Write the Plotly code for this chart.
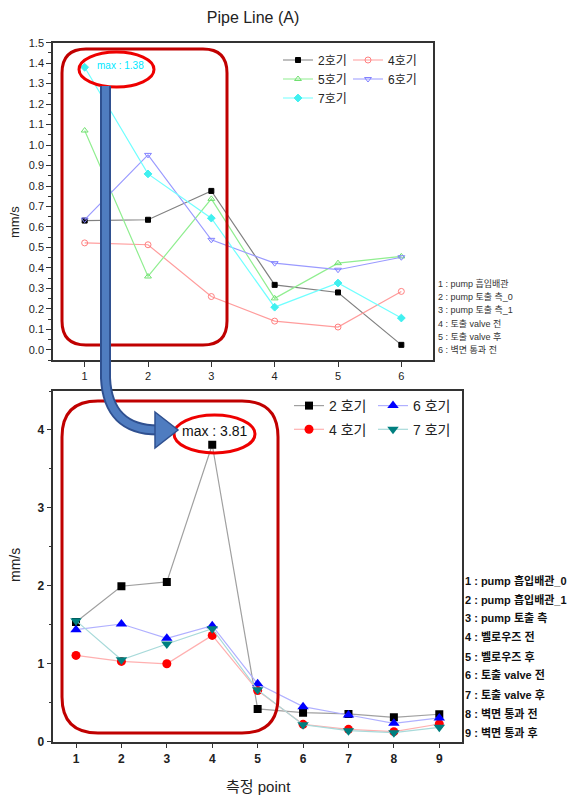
import plotly.graph_objects as go

W, H = 575, 796

# ---------------- data ----------------
points_top = [1, 2, 3, 4, 5, 6]
top_2 = [0.631, 0.635, 0.776, 0.317, 0.280, 0.024]
top_4 = [0.522, 0.513, 0.260, 0.140, 0.111, 0.285]
top_5 = [1.071, 0.358, 0.737, 0.251, 0.423, 0.456]
top_6 = [0.636, 0.952, 0.537, 0.423, 0.391, 0.452]
top_7 = [1.380, 0.859, 0.643, 0.208, 0.326, 0.155]

points_bottom = [1, 2, 3, 4, 5, 6, 7, 8, 9]
bot_2 = [1.536, 1.995, 2.050, 3.810, 0.420, 0.373, 0.356, 0.313, 0.352]
bot_4 = [1.107, 1.030, 1.000, 1.364, 0.656, 0.223, 0.159, 0.129, 0.227]
bot_6 = [1.437, 1.510, 1.326, 1.489, 0.742, 0.450, 0.343, 0.236, 0.305]
bot_7 = [1.553, 1.051, 1.253, 1.450, 0.665, 0.219, 0.142, 0.116, 0.184]

top_names = ["2호기", "4호기", "5호기", "6호기", "7호기"]
bot_names = ["2 호기", "4 호기", "6 호기", "7 호기"]

top_notes = ["1 : pump 흡입배관", "2 : pump 토출 측_0", "3 : pump 토출 측_1",
             "4 : 토출 valve 전", "5 : 토출 valve 후", "6 : 벽면 통과 전"]
bottom_notes = ["1 : pump 흡입배관_0", "2 : pump 흡입배관_1", "3 : pump 토출 측",
                "4 : 벨로우즈 전", "5 : 벨로우즈 후", "6 : 토출 valve 전",
                "7 : 토출 valve 후", "8 : 벽면 통과 전", "9 : 벽면 통과 후"]

top_max_label = "max : 1.38"
bot_max_label = "max : 3.81"

FONT = "Liberation Sans, Arial, Noto Sans CJK KR, sans-serif"


def px(x, y):
    return x / W, 1 - y / H


fig = go.Figure()

# ---------------- top chart traces ----------------
top_styles = [
    (top_2, "#808080", "square", "#000000", 5, "legend"),
    (top_4, "#ff9c9c", "circle-open", "#ff8080", 6, "legend2"),
    (top_5, "#90ee90", "triangle-up-open", "#70e070", 6, "legend"),
    (top_6, "#9a9aff", "triangle-down-open", "#8080ff", 6, "legend2"),
    (top_7, "#70ffff", "diamond", "#40f0f0", 6, "legend"),
]
for name, (vals, lc, sym, mc, ms, lg) in zip(top_names, top_styles):
    fig.add_trace(go.Scatter(
        x=points_top, y=vals, name=name, mode="lines+markers",
        line=dict(color=lc, width=1.2),
        marker=dict(symbol=sym, color=mc, size=ms, line=dict(color=mc, width=1)),
        xaxis="x", yaxis="y", legend=lg))

# ---------------- bottom chart traces ----------------
bot_styles = [
    (bot_2, "#a0a0a0", "square", "#000000", 8, "legend3"),
    (bot_4, "#ffb0b0", "circle", "#ff0000", 9, "legend3"),
    (bot_6, "#b0b0ff", "triangle-up", "#0000ff", 10, "legend4"),
    (bot_7, "#a8dada", "triangle-down", "#007f7f", 10, "legend4"),
]
for name, (vals, lc, sym, mc, ms, lg) in zip(bot_names, bot_styles):
    fig.add_trace(go.Scatter(
        x=points_bottom, y=vals, name=name, mode="lines+markers",
        line=dict(color=lc, width=1.2),
        marker=dict(symbol=sym, color=mc, size=ms, line=dict(width=0)),
        xaxis="x2", yaxis="y2", legend=lg, legendgroup=name))

axis_common = dict(showline=True, linecolor="#333333", linewidth=1.5, mirror=True,
                   ticks="outside", tickcolor="#333333", ticklen=5, showgrid=False,
                   zeroline=False, automargin=False)

fig.update_layout(
    width=W, height=H,
    margin=dict(l=0, r=0, t=0, b=0, pad=0, autoexpand=False),
    paper_bgcolor="white", plot_bgcolor="white",
    font=dict(family=FONT, color="#222222"),
    title=dict(text="Pipe Line (A)", x=253 / W, xanchor="center",
               y=1 - 17 / H, yanchor="middle", font=dict(size=16, color="#222222")),
    xaxis=dict(domain=[53 / W, 433 / W], range=[0.5, 6.5], tickvals=points_top,
               tickfont=dict(size=11), anchor="y", **axis_common),
    yaxis=dict(domain=[1 - 360 / H, 1 - 42.7 / H], range=[-0.05, 1.5], dtick=0.1,
               tick0=0, tickformat=".1f", tickfont=dict(size=11), anchor="x",
               minor=dict(dtick=0.05, ticks="outside", ticklen=3, tickcolor="#333333"),
               **axis_common),
    xaxis2=dict(domain=[53.3 / W, 462 / W], range=[0.5, 9.5], tickvals=points_bottom,
                tickfont=dict(size=12, weight="bold"), anchor="y2", **axis_common),
    yaxis2=dict(domain=[1 - 741.7 / H, 1 - 391 / H], range=[0, 4.5], dtick=1,
                tickfont=dict(size=12, weight="bold"), anchor="x2",
                minor=dict(dtick=0.5, ticks="outside", ticklen=3, tickcolor="#333333"),
                **axis_common),
    legend=dict(x=278 / W, xanchor="left", y=1 - 45.5 / H, yanchor="top",
                bgcolor="rgba(0,0,0,0)", font=dict(size=12)),
    legend2=dict(x=348 / W, xanchor="left", y=1 - 45.5 / H, yanchor="top",
                 bgcolor="rgba(0,0,0,0)", font=dict(size=12)),
    legend3=dict(x=289 / W, xanchor="left", y=1 - 390 / H, yanchor="top",
                 bgcolor="rgba(0,0,0,0)", font=dict(size=14), tracegroupgap=2.5),
    legend4=dict(x=373 / W, xanchor="left", y=1 - 390 / H, yanchor="top",
                 bgcolor="rgba(0,0,0,0)", font=dict(size=14), tracegroupgap=2.5),
    showlegend=True,
)

# ---------------- annotations ----------------
ann = []
ann.append(dict(text="mm/s", x=15 / W, y=1 - 222 / H, xref="paper", yref="paper",
                xanchor="center", yanchor="middle",
                textangle=-90, showarrow=False, font=dict(size=13)))
ann.append(dict(text="mm/s", x=15 / W, y=1 - 565 / H, xref="paper", yref="paper",
                xanchor="center", yanchor="middle",
                textangle=-90, showarrow=False, font=dict(size=14)))
ann.append(dict(text="측정 point", x=258 / W, y=1 - 786 / H, xref="paper", yref="paper",
                xanchor="center", yanchor="middle",
                showarrow=False, font=dict(size=15)))
for i, t in enumerate(top_notes):
    ann.append(dict(text=t, x=436 / W, y=1 - (283.5 + i * 13.4) / H, xref="paper",
                    yref="paper", xanchor="left", yanchor="middle", showarrow=False,
                    font=dict(size=9, color="#333333")))
for i, t in enumerate(bottom_notes):
    ann.append(dict(text=t, x=463 / W, y=1 - (580 + i * 19.0) / H, xref="paper",
                    yref="paper", xanchor="left", yanchor="middle", showarrow=False,
                    font=dict(size=11, color="#111111", weight="bold")))
ann.append(dict(text=top_max_label, x=120 / W, y=1 - 66 / H, xref="paper", yref="paper",
                xanchor="center", yanchor="middle",
                showarrow=False, font=dict(size=10, color="#00e8ff")))
ann.append(dict(text=bot_max_label, x=215 / W, y=1 - 431 / H, xref="paper", yref="paper",
                xanchor="center", yanchor="middle",
                showarrow=False, font=dict(size=14, color="#111111")))
fig.update_layout(annotations=ann)


# ---------------- decorative shapes ----------------
def P(x, y):
    a, b = px(x, y)
    return f"{a:.5f},{b:.5f}"


def rrect(x0, y0, x1, y1, r):
    return (f"M{P(x0 + r, y0)} L{P(x1 - r, y0)} Q{P(x1, y0)} {P(x1, y0 + r)} "
            f"L{P(x1, y1 - r)} Q{P(x1, y1)} {P(x1 - r, y1)} L{P(x0 + r, y1)} "
            f"Q{P(x0, y1)} {P(x0, y1 - r)} L{P(x0, y0 + r)} Q{P(x0, y0)} {P(x0 + r, y0)} Z")


shapes = []
shapes.append(dict(type="path", xref="paper", yref="paper", path=rrect(62, 49, 227, 345, 24),
                   line=dict(color="#c00000", width=3)))
shapes.append(dict(type="path", xref="paper", yref="paper", path=rrect(62, 401, 278, 733, 36),
                   line=dict(color="#c00000", width=3)))
for (x0, y0, x1, y1) in [(79, 52, 154, 87), (174, 415, 255, 453)]:
    a0, b0 = px(x0, y1)
    a1, b1 = px(x1, y0)
    shapes.append(dict(type="circle", xref="paper", yref="paper", x0=a0, y0=b0, x1=a1, y1=b1,
                       line=dict(color="#ee0000", width=3)))
arrow_body = f"M{P(105.5, 86)} L{P(105.5, 378)} Q{P(108, 430)} {P(158, 430)}"
shapes.append(dict(type="path", xref="paper", yref="paper", path=arrow_body,
                   line=dict(color="#2f5090", width=11)))
shapes.append(dict(type="path", xref="paper", yref="paper", path=arrow_body,
                   line=dict(color="#4f7cc0", width=7)))
head = f"M{P(155, 412)} L{P(178, 430)} L{P(155, 448)} Z"
shapes.append(dict(type="path", xref="paper", yref="paper", path=head,
                   fillcolor="#4f7cc0", line=dict(color="#2f5090", width=1.5)))
fig.update_layout(shapes=shapes)

fig.write_html("out.html", config={"displayModeBar": False},
               post_script="document.body.style.margin='0';document.body.style.padding='0';")
